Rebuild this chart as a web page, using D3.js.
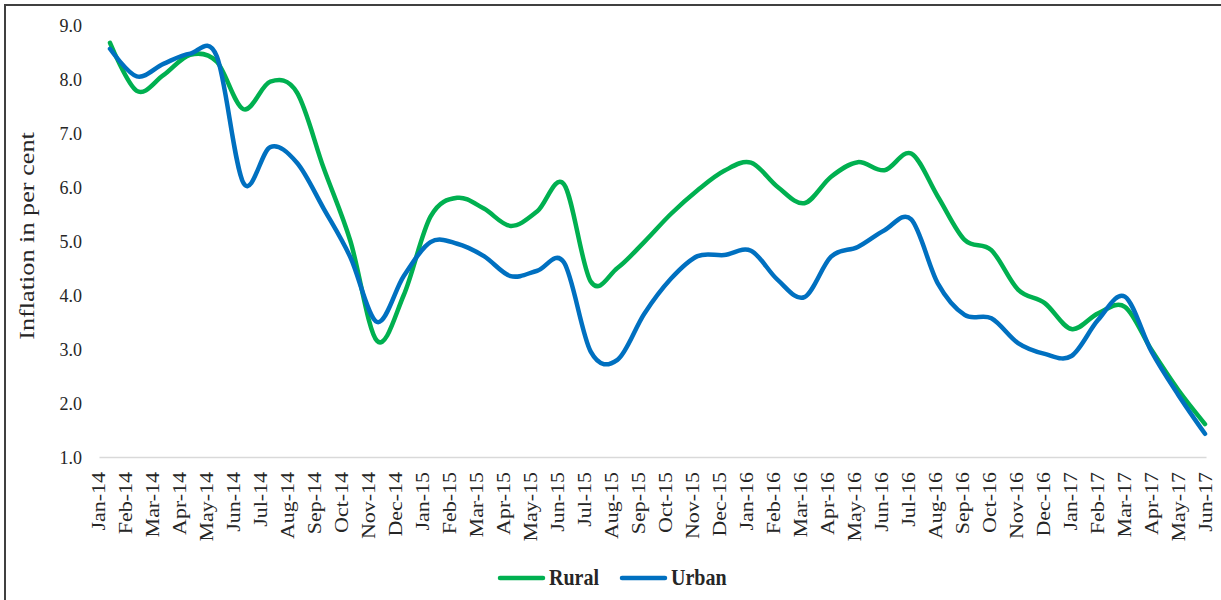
<!DOCTYPE html>
<html>
<head>
<meta charset="utf-8">
<script src="https://cdn.jsdelivr.net/npm/d3@7"></script>
<style>
  html, body { margin: 0; padding: 0; background: #fff; }
  svg { display: block; }
  text { font-family: "Liberation Serif", "DejaVu Serif", serif; fill: #262626; }
</style>
</head>
<body>
<svg id="chart" width="1221" height="600"></svg>
<script>
// Monthly CPI inflation (per cent), Jan-2014 to Jun-2017
const months = [
  "Jan-14","Feb-14","Mar-14","Apr-14","May-14","Jun-14","Jul-14","Aug-14","Sep-14","Oct-14","Nov-14","Dec-14",
  "Jan-15","Feb-15","Mar-15","Apr-15","May-15","Jun-15","Jul-15","Aug-15","Sep-15","Oct-15","Nov-15","Dec-15",
  "Jan-16","Feb-16","Mar-16","Apr-16","May-16","Jun-16","Jul-16","Aug-16","Sep-16","Oct-16","Nov-16","Dec-16",
  "Jan-17","Feb-17","Mar-17","Apr-17","May-17","Jun-17"
];
const rural = [
  8.67, 7.78, 8.07, 8.45, 8.32, 7.44, 7.95, 7.75, 6.35, 5.00, 3.15, 4.00,
  5.45, 5.80, 5.60, 5.28, 5.55, 6.05, 4.25, 4.50, 4.98, 5.50, 5.94, 6.30,
  6.45, 6.00, 5.70, 6.19, 6.46, 6.31, 6.62, 5.82, 5.02, 4.83, 4.10, 3.85,
  3.37, 3.66, 3.78, 2.98, 2.24, 1.61
];
const urban = [
  8.56, 8.05, 8.28, 8.47, 8.42, 6.07, 6.74, 6.45, 5.60, 4.70, 3.50, 4.35,
  4.98, 4.95, 4.72, 4.35, 4.45, 4.60, 2.95, 2.80, 3.65, 4.30, 4.72, 4.74,
  4.82, 4.28, 3.96, 4.71, 4.89, 5.20, 5.40, 4.21, 3.63, 3.57, 3.11, 2.91,
  2.87, 3.54, 3.97, 2.95, 2.15, 1.43
];
const yTicks = [1, 2, 3, 4, 5, 6, 7, 8, 9];
const seriesNames = ["Rural", "Urban"];
const seriesColors = ["#00B050", "#0070C0"];

const svg = d3.select("#chart");

// outer chart frame (runs past the right and bottom edges)
svg.append("rect")
  .attr("x", 5).attr("y", 5)
  .attr("width", 1230).attr("height", 610)
  .attr("fill", "none")
  .attr("stroke", "#404040")
  .attr("stroke-width", 2);

const y = d3.scaleLinear().domain([1, 9]).range([457, 25]);
const xAxisScale = d3.scalePoint().domain(months).range([99, 1206]);
const xLine = d3.scalePoint().domain(months).range([110, 1205]);

// y tick labels (no axis line, no gridlines)
const yAxis = d3.axisLeft(y).tickValues(yTicks).tickFormat(d3.format(".1f")).tickSize(0).tickPadding(0);
const gy = svg.append("g").attr("transform", "translate(82,0)").call(yAxis);
gy.select(".domain").remove();
gy.selectAll("text")
  .style("font-family", "'Liberation Serif', serif")
  .style("font-size", "18px")
  .attr("fill", "#262626")
  .attr("dy", "0.35em");

// category axis
const xAxis = d3.axisBottom(xAxisScale).tickSize(0).tickPadding(0);
const gx = svg.append("g").attr("transform", "translate(0,457)").call(xAxis);
gx.select(".domain").attr("stroke", "#d9d9d9").attr("stroke-width", 1.5);
gx.selectAll(".tick text")
  .style("font-family", "'Liberation Serif', serif")
  .style("font-size", "18px")
  .attr("fill", "#262626")
  .attr("text-anchor", "end")
  .attr("y", 0).attr("dy", "0.33em")
  .attr("transform", "translate(0,15) rotate(-90) scale(1.22,1)");

// axis title
svg.append("text")
  .attr("transform", "translate(27,236) rotate(-90) scale(1.25,1)")
  .attr("text-anchor", "middle")
  .attr("dy", "0.33em")
  .style("font-size", "21px")
  .text("Inflation in per cent");

// series lines
const line = d3.line()
  .x((d, i) => xLine(months[i]))
  .y(d => y(d))
  .curve(d3.curveCardinal.tension(0));

[rural, urban].forEach((vals, k) => {
  svg.append("path")
    .datum(vals)
    .attr("fill", "none")
    .attr("stroke", seriesColors[k])
    .attr("stroke-width", 4.5)
    .attr("stroke-linejoin", "round")
    .attr("stroke-linecap", "round")
    .attr("d", line);
});

// legend
const legendX = [500, 622];
seriesNames.forEach((name, k) => {
  const g = svg.append("g").attr("transform", `translate(${legendX[k]},578)`);
  g.append("line")
    .attr("x1", 0).attr("x2", 43)
    .attr("y1", 0).attr("y2", 0)
    .attr("stroke", seriesColors[k])
    .attr("stroke-width", 4.5)
    .attr("stroke-linecap", "round");
  g.append("text")
    .attr("transform", "translate(49,7) scale(1,1.2)")
    .style("font-size", "20px")
    .style("font-weight", "bold")
    .attr("fill", "#000")
    .text(name);
});
</script>
</body>
</html>
